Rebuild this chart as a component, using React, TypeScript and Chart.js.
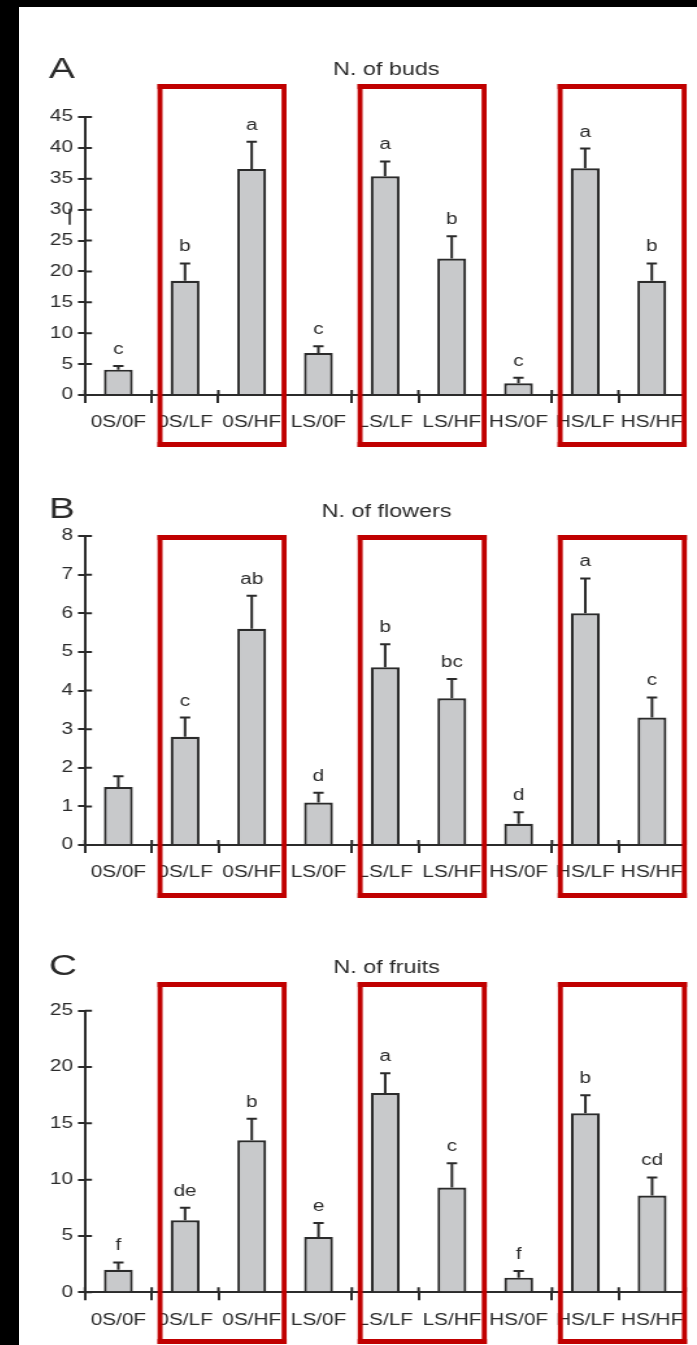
import { useEffect, useRef } from "react";
import { Chart, registerables } from "chart.js";

Chart.register(...registerables);

// Treatment groups on the x axis
const categories = ["0S/0F", "0S/LF", "0S/HF", "LS/0F", "LS/LF", "LS/HF", "HS/0F", "HS/LF", "HS/HF"];

// A: number of buds (mean, standard error, significance letter)
const budMeans = [4.1, 18.5, 36.6, 6.8, 35.4, 22.1, 1.9, 36.7, 18.5];
const budErrors = [0.6, 2.8, 4.4, 1.1, 2.4, 3.6, 0.9, 3.2, 2.8];
const budLetters = ["c", "b", "a", "c", "a", "b", "c", "a", "b"];
const budTicks = [0, 5, 10, 15, 20, 25, 30, 35, 40, 45];

// B: number of flowers
const flowerMeans = [1.5, 2.8, 5.6, 1.1, 4.6, 3.8, 0.55, 6.0, 3.3];
const flowerErrors = [0.28, 0.5, 0.85, 0.25, 0.6, 0.5, 0.3, 0.9, 0.52];
const flowerLetters = ["", "c", "ab", "d", "b", "bc", "d", "a", "c"];
const flowerTicks = [0, 1, 2, 3, 4, 5, 6, 7, 8];

// C: number of fruits
const fruitMeans = [2.0, 6.4, 13.5, 4.9, 17.7, 9.3, 1.3, 15.9, 8.6];
const fruitErrors = [0.65, 1.1, 1.9, 1.25, 1.75, 2.15, 0.6, 1.6, 1.6];
const fruitLetters = ["f", "de", "b", "e", "a", "c", "f", "b", "cd"];
const fruitTicks = [0, 5, 10, 15, 20, 25];

// Pairs of categories outlined with a red frame
const framedPairs = [
  [1, 2],
  [4, 5],
  [7, 8],
];

const FONT = '"Liberation Sans", Arial, Helvetica, sans-serif';
const INK = "#2b2b2b";
const BAR_FILL = "#c8c9cb";
const FRAME_RED = "#c00000";

// The canvases are drawn narrower and widened with CSS, which gives the
// broad lettering of the figure.
const CSS_W = 678;
const CANVAS_W = 522;
const SX = CSS_W / CANVAS_W;
const AXIS_X = 50.8;
const CAP_HALF = 4;
const LETTER_GAP = 12;

type PanelLayout = {
  tag: string;
  title: string;
  means: number[];
  errors: number[];
  letters: string[];
  ticks: number[];
  top: number;
  height: number;
  plotTop: number;
  plotBottom: number;
  plotRight: number;
  frameTop: number;
  frameBottom: number;
  tagBaseline: number;
  titleBaseline: number;
};

const panels: PanelLayout[] = [
  {
    tag: "A", title: "N. of buds", means: budMeans, errors: budErrors, letters: budLetters, ticks: budTicks,
    top: 0, height: 463, plotTop: 110, plotBottom: 388, plotRight: 515.1,
    frameTop: 79.5, frameBottom: 437.5, tagBaseline: 70.5, titleBaseline: 68,
  },
  {
    tag: "B", title: "N. of flowers", means: flowerMeans, errors: flowerErrors, letters: flowerLetters, ticks: flowerTicks,
    top: 463, height: 465, plotTop: 66, plotBottom: 375, plotRight: 517.7,
    frameTop: 67.5, frameBottom: 425.5, tagBaseline: 48, titleBaseline: 47,
  },
  {
    tag: "C", title: "N. of fruits", means: fruitMeans, errors: fruitErrors, letters: fruitLetters, ticks: fruitTicks,
    top: 928, height: 410, plotTop: 75.7, plotBottom: 357.3, plotRight: 519.1,
    frameTop: 49.5, frameBottom: 406.5, tagBaseline: 40, titleBaseline: 38,
  },
];

function decorations(p: PanelLayout) {
  return {
    id: "decor" + p.tag,
    afterDatasetsDraw(chart: Chart) {
      const { ctx } = chart;
      const xs = chart.scales.x;
      const ys = chart.scales.y;
      ctx.save();
      ctx.strokeStyle = INK;
      ctx.fillStyle = INK;
      ctx.lineWidth = 2;
      ctx.font = `16px ${FONT}`;
      ctx.textAlign = "center";
      ctx.textBaseline = "alphabetic";
      p.means.forEach((m, i) => {
        const cx = xs.getPixelForValue(i);
        const yBar = ys.getPixelForValue(m);
        const yErr = ys.getPixelForValue(m + p.errors[i]);
        ctx.beginPath();
        ctx.moveTo(cx, yBar);
        ctx.lineTo(cx, yErr);
        ctx.moveTo(cx - CAP_HALF, yErr);
        ctx.lineTo(cx + CAP_HALF, yErr);
        ctx.stroke();
        if (p.letters[i]) ctx.fillText(p.letters[i], cx, yErr - LETTER_GAP);
      });
      ctx.restore();
    },
    afterDraw(chart: Chart) {
      const { ctx, chartArea } = chart;
      const xs = chart.scales.x;
      const ys = chart.scales.y;
      ctx.save();
      // tick stubs reaching into the plot
      ctx.strokeStyle = INK;
      ctx.lineWidth = 2;
      ctx.beginPath();
      p.ticks.forEach((t) => {
        const y = ys.getPixelForValue(t);
        ctx.moveTo(chartArea.left, y);
        ctx.lineTo(chartArea.left + 5.4, y);
      });
      for (let k = 0; k <= categories.length; k++) {
        const x = xs.getPixelForValue(k - 0.5);
        ctx.moveTo(x, chartArea.bottom);
        ctx.lineTo(x, chartArea.bottom - 5);
      }
      ctx.stroke();

      // a stray pen stroke beside the "30" label of the buds axis
      if (p.tag === "A") {
        const y30 = ys.getPixelForValue(30);
        ctx.lineWidth = 1.6;
        ctx.beginPath();
        ctx.moveTo(chartArea.left - 11.8, y30 - 1);
        ctx.lineTo(chartArea.left - 11.8, y30 + 15);
        ctx.stroke();
      }

      // red frames
      ctx.fillStyle = FRAME_RED;
      const vw = 5 / SX;
      framedPairs.forEach(([a, b]) => {
        const l = xs.getPixelForValue(a - 0.375);
        const r = xs.getPixelForValue(b + 0.485);
        const t = p.frameTop;
        const bt = p.frameBottom;
        ctx.fillRect(l - vw / 2, t - 2.5, r - l + vw, 5);
        ctx.fillRect(l - vw / 2, bt - 2.5, r - l + vw, 5);
        ctx.fillRect(l - vw / 2, t - 2.5, vw, bt - t + 5);
        ctx.fillRect(r - vw / 2, t - 2.5, vw, bt - t + 5);
      });

      // panel tag and title
      ctx.fillStyle = INK;
      ctx.textBaseline = "alphabetic";
      ctx.textAlign = "left";
      ctx.font = `30px ${FONT}`;
      ctx.fillText(p.tag, 23, p.tagBaseline);
      ctx.textAlign = "center";
      ctx.font = `18px ${FONT}`;
      ctx.fillText(p.title, (chartArea.left + chartArea.right) / 2 + 1, p.titleBaseline);
      ctx.restore();
    },
  };
}

function Panel({ p }: { p: PanelLayout }) {
  const ref = useRef<HTMLCanvasElement | null>(null);
  useEffect(() => {
    const canvas = ref.current;
    if (!canvas) return;
    canvas.width = CANVAS_W;
    canvas.height = p.height;
    const tickFont = { family: FONT, size: 16 };
    const chart = new Chart(canvas, {
      type: "bar",
      data: {
        labels: categories,
        datasets: [
          {
            data: p.means,
            backgroundColor: BAR_FILL,
            borderColor: INK,
            borderWidth: 2.2,
            borderSkipped: "start",
            barPercentage: 0.433,
            categoryPercentage: 1,
          },
        ],
      },
      options: {
        responsive: false,
        animation: false,
        devicePixelRatio: 1,
        layout: { padding: { top: p.plotTop, right: CANVAS_W - p.plotRight, left: 0, bottom: 0 } },
        plugins: {
          legend: { display: false },
          tooltip: { enabled: false },
          title: { display: false },
        },
        scales: {
          x: {
            type: "category",
            offset: true,
            grid: { offset: true, drawOnChartArea: false, drawTicks: true, tickLength: 8, lineWidth: 2, color: INK },
            border: { display: true, color: INK, width: 2 },
            ticks: { color: INK, font: tickFont, padding: 10.4, maxRotation: 0, minRotation: 0, autoSkip: false },
            afterFit: (s: any) => {
              s.height = p.height - p.plotBottom;
            },
          },
          y: {
            min: p.ticks[0],
            max: p.ticks[p.ticks.length - 1],
            grid: { drawOnChartArea: false, drawTicks: true, tickLength: 5.4, lineWidth: 2, color: INK },
            border: { display: true, color: INK, width: 2 },
            ticks: { color: INK, font: tickFont, padding: 3.8, stepSize: p.ticks[1] - p.ticks[0] },
            afterFit: (s: any) => {
              s.width = AXIS_X;
            },
          },
        },
      },
      plugins: [decorations(p)],
    });
    return () => chart.destroy();
  }, [p]);

  return (
    <canvas
      ref={ref}
      width={CANVAS_W}
      height={p.height}
      style={{ position: "absolute", left: 0, top: p.top, width: CSS_W, height: p.height }}
    />
  );
}

export default function App() {
  return (
    <div style={{ position: "fixed", left: 0, top: 0, width: 697, height: 1345, background: "#000", overflow: "hidden" }}>
      <div style={{ position: "absolute", left: 19, top: 7, width: CSS_W, height: 1338, background: "#fff", overflow: "hidden" }}>
        {panels.map((p) => (
          <Panel key={p.tag} p={p} />
        ))}
      </div>
    </div>
  );
}
